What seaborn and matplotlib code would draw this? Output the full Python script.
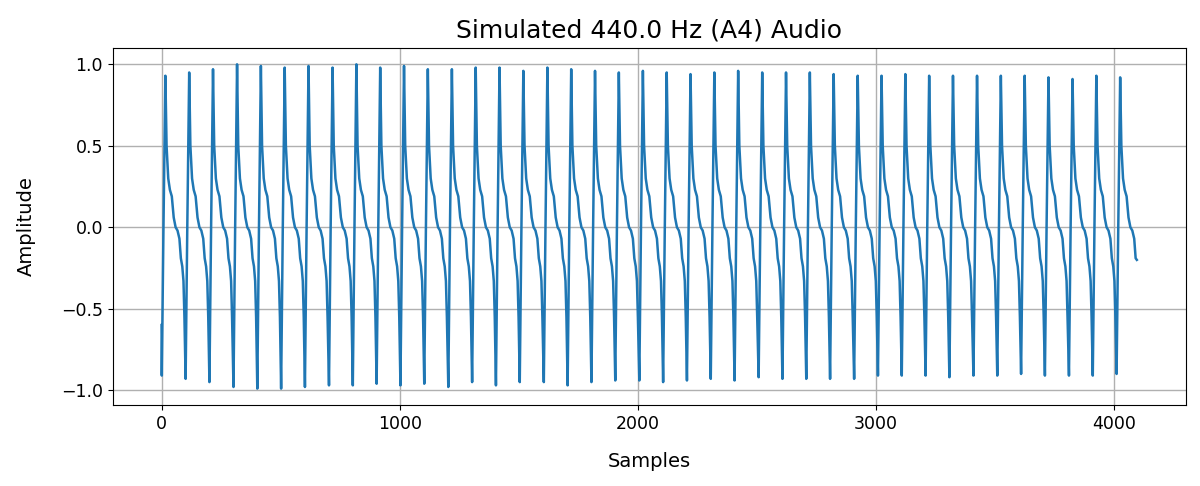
import numpy as np
import pandas as pd
import matplotlib
matplotlib.use("Agg")
import matplotlib.pyplot as plt
import seaborn as sns

# sample index of each trough (start of each cycle)
trough_samples = [1, 101, 201, 302, 402, 502, 602, 703, 803, 903,
                  1003, 1103, 1204, 1304, 1404, 1504, 1605, 1705, 1805, 1905,
                  2006, 2106, 2206, 2306, 2406, 2507, 2607, 2707, 2807, 2908,
                  3008, 3108, 3208, 3308, 3409, 3509, 3609, 3709, 3810, 3910,
                  4010]
trough_values = [-0.91, -0.93, -0.95, -0.98, -0.99, -0.99, -0.98, -0.97, -0.97, -0.96,
                 -0.97, -0.96, -0.98, -0.95, -0.97, -0.95, -0.95, -0.97, -0.95, -0.94,
                 -0.94, -0.95, -0.94, -0.93, -0.94, -0.92, -0.93, -0.93, -0.93, -0.93,
                 -0.91, -0.91, -0.91, -0.92, -0.91, -0.91, -0.90, -0.91, -0.91, -0.91,
                 -0.90]
peak_values = [0.93, 0.95, 0.97, 1.00, 0.99, 0.98, 0.99, 0.98, 1.00, 0.98,
               0.99, 0.97, 0.97, 0.98, 0.98, 0.96, 0.98, 0.97, 0.96, 0.95,
               0.96, 0.95, 0.94, 0.95, 0.96, 0.95, 0.95, 0.95, 0.94, 0.93,
               0.93, 0.94, 0.93, 0.93, 0.93, 0.93, 0.93, 0.92, 0.91, 0.93,
               0.92]

# shape of one cycle between trough and peak, offsets in samples from the trough
rise_offsets = [7]
rise_values = [0.0]
peak_offset = 15
fall_offsets = [20, 27, 34, 42, 50, 58, 66, 74, 80, 86, 91, 95]
fall_values = [0.50, 0.30, 0.23, 0.19, 0.06, 0.0, -0.02, -0.07, -0.19, -0.24, -0.33, -0.55]

first_sample, first_value = 0, -0.6
last_sample, last_value = 4095, -0.2

xs = [first_sample]
ys = [first_value]
for start, lo, hi in zip(trough_samples, trough_values, peak_values):
    xs.append(start)
    ys.append(lo)
    for o, v in zip(rise_offsets, rise_values):
        xs.append(start + o)
        ys.append(v)
    xs.append(start + peak_offset)
    ys.append(hi)
    for o, v in zip(fall_offsets, fall_values):
        if start + o < last_sample:
            xs.append(start + o)
            ys.append(v)
xs.append(last_sample)
ys.append(last_value)

df = pd.DataFrame({"Samples": xs, "Amplitude": ys})

fig, ax = plt.subplots(figsize=(12, 4.86), dpi=100)
sns.lineplot(data=df, x="Samples", y="Amplitude", estimator=None, sort=True,
             color="#1f77b4", linewidth=1.8, ax=ax)

ax.set_title("Simulated 440.0 Hz (A4) Audio", fontsize=18, pad=8)
ax.set_xlabel("Samples", fontsize=14, labelpad=14)
ax.set_ylabel("Amplitude", fontsize=14, labelpad=18)
ax.tick_params(labelsize=12.5)
ax.set_xticks([0, 1000, 2000, 3000, 4000])
ax.set_yticks([-1.0, -0.5, 0.0, 0.5, 1.0])
ax.grid(True, color="#b0b0b0", linewidth=1.0)

fig.subplots_adjust(left=0.094, right=0.988, top=0.901, bottom=0.167)
fig.savefig("out.png", dpi=100)
